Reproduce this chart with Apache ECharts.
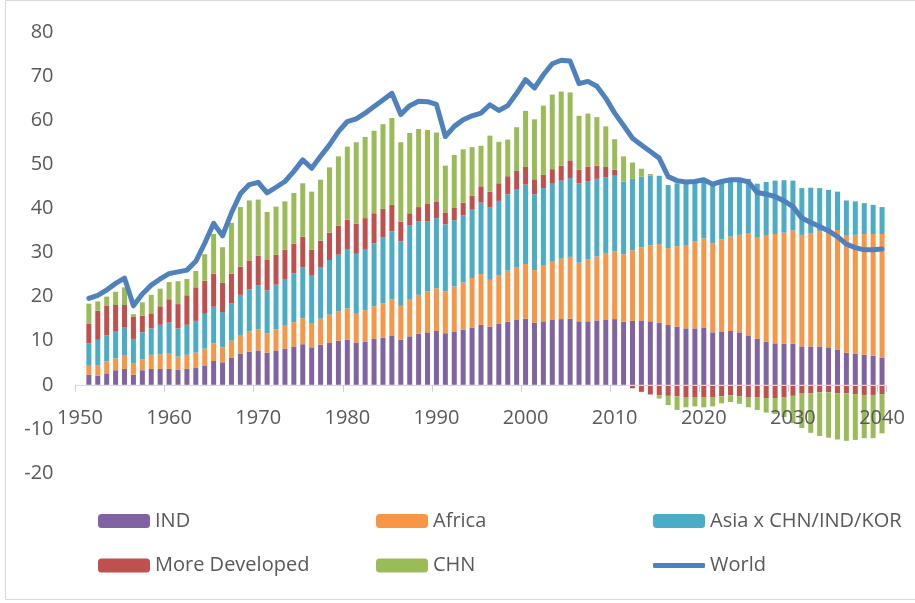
<!DOCTYPE html>
<html>
<head>
<meta charset="utf-8">
<script src="https://cdn.jsdelivr.net/npm/echarts@6/dist/echarts.min.js"></script>
<style>
  html, body { margin: 0; padding: 0; background: #fff; }
  #main { width: 915px; height: 603px; }
</style>
</head>
<body>
<div id="main"></div>
<script>
// categories 1950..2040, 1950 has no data
var years = [];
for (var y = 1950; y <= 2040; y++) years.push(String(y));

var yTicks = [-20, -10, 0, 10, 20, 30, 40, 50, 60, 70, 80];

var ind = [null,
  2.3, 2.1, 2.6, 3.3, 3.6, 2.3, 3.3, 3.6, 3.6, 3.6,
  3.4, 3.6, 3.8, 4.4, 5.4, 5.1, 6.2, 7.0, 7.5, 7.8,
  7.3, 7.8, 8.2, 8.7, 9.2, 8.5, 9.1, 9.6, 10.0, 10.2,
  9.6, 9.8, 10.4, 10.7, 11.2, 10.2, 11.0, 11.6, 11.9, 12.2,
  11.7, 12.1, 12.5, 13.0, 13.6, 13.2, 13.8, 14.3, 14.7, 15.0,
  14.1, 14.4, 14.7, 14.9, 15.0, 14.4, 14.4, 14.6, 14.7, 14.9,
  14.3, 14.5, 14.6, 14.4, 14.1, 13.6, 13.2, 12.8, 12.8, 13.0,
  11.9, 12.1, 12.2, 11.9, 11.2, 10.4, 9.8, 9.4, 9.3, 9.3,
  8.7, 8.7, 8.7, 8.5, 7.9, 7.3, 7.0, 6.8, 6.6, 6.2];

var africa = [null,
  2.0, 2.4, 2.7, 2.7, 3.0, 2.5, 2.5, 3.2, 3.3, 3.6,
  3.0, 3.2, 3.5, 3.8, 4.0, 3.4, 3.8, 4.3, 4.6, 4.8,
  4.4, 4.8, 5.2, 5.5, 5.9, 5.5, 5.9, 6.3, 6.6, 7.1,
  6.5, 7.1, 7.4, 7.8, 8.2, 7.7, 8.3, 8.8, 9.3, 9.7,
  9.5, 10.2, 10.7, 11.2, 11.5, 10.6, 11.1, 11.6, 12.0, 12.4,
  11.9, 12.6, 13.2, 13.7, 14.0, 13.3, 14.1, 14.5, 15.2, 15.4,
  15.3, 16.0, 16.6, 17.2, 17.8, 17.4, 18.2, 18.9, 19.7, 20.2,
  20.2, 20.9, 21.4, 22.1, 23.2, 23.1, 24.0, 24.8, 25.2, 25.7,
  25.3, 25.7, 26.2, 26.3, 27.2, 26.5, 27.0, 27.4, 27.6, 28.0];

var asia = [null,
  5.1, 5.7, 5.9, 6.2, 6.5, 5.6, 6.1, 6.0, 6.7, 6.9,
  6.4, 6.8, 7.2, 7.9, 8.3, 8.0, 8.5, 9.1, 9.5, 10.0,
  9.7, 10.1, 10.6, 11.1, 11.5, 10.9, 11.7, 12.4, 12.9, 13.5,
  13.6, 13.9, 14.3, 14.9, 15.4, 14.6, 16.8, 16.6, 15.9, 15.9,
  15.2, 15.0, 15.2, 15.5, 16.2, 16.5, 16.8, 17.3, 17.7, 18.0,
  17.2, 17.6, 17.7, 17.7, 17.9, 18.0, 17.7, 17.6, 17.2, 17.1,
  16.5, 16.2, 16.0, 15.8, 15.5, 14.3, 14.3, 14.3, 13.6, 13.3,
  13.6, 13.3, 12.9, 12.6, 12.3, 12.1, 12.2, 12.1, 11.9, 11.3,
  10.6, 10.3, 9.7, 9.4, 8.7, 8.0, 7.6, 7.0, 6.6, 6.1];

var moreDev = [null,
  4.4, 6.6, 6.8, 5.9, 5.0, 5.1, 3.8, 3.4, 4.2, 5.3,
  5.5, 6.7, 7.6, 7.5, 7.5, 6.7, 6.7, 6.4, 6.6, 6.7,
  6.9, 6.8, 6.6, 6.7, 7.0, 5.7, 6.0, 6.2, 6.6, 6.6,
  6.8, 7.0, 6.8, 6.5, 6.0, 4.5, 2.8, 3.3, 3.9, 3.8,
  2.7, 2.8, 2.9, 3.2, 3.7, 3.5, 4.0, 4.1, 4.1, 4.0,
  3.4, 3.0, 3.3, 3.4, 4.0, 3.1, 3.3, 3.0, 2.3, 1.4,
  0, -0.8, -1.6, -2.2, -2.4, -2.5, -2.6, -2.9, -2.9, -2.9,
  -2.9, -2.6, -2.4, -2.6, -2.9, -2.9, -3.0, -3.0, -2.9, -2.5,
  -2.0, -1.9, -1.7, -1.7, -1.9, -1.9, -2.1, -2.3, -2.3, -2.1];

var chn = [null,
  4.6, 2.1, 2.0, 3.0, 4.0, 0.5, 3.0, 4.2, 4.0, 3.9,
  5.2, 3.7, 3.7, 6.0, 9.0, 8.0, 11.5, 13.5, 13.6, 12.7,
  10.9, 10.9, 11.0, 11.5, 12.1, 13.2, 13.8, 14.8, 15.7, 16.6,
  18.5, 18.4, 18.7, 19.2, 19.7, 18.0, 18.2, 17.7, 16.8, 15.6,
  10.6, 12.0, 12.1, 11.0, 9.2, 12.7, 9.4, 8.3, 9.9, 12.7,
  13.6, 15.7, 16.9, 16.8, 15.4, 12.2, 12.0, 11.0, 9.2, 6.9,
  5.7, 3.7, 1.8, 0.4, -0.7, -2.1, -3.1, -2.2, -2.0, -2.2,
  -2.0, -1.6, -1.5, -1.7, -2.2, -2.8, -3.3, -3.6, -4.4, -6.2,
  -7.8, -9.0, -9.9, -10.3, -10.5, -10.8, -10.4, -9.8, -9.8, -8.9];

var world = [null,
  19.6, 20.3, 21.5, 23.0, 24.2, 17.9, 20.6, 22.6, 24.0, 25.2,
  25.6, 26.0, 28.0, 32.1, 36.6, 33.8, 39.0, 43.3, 45.4, 45.9,
  43.5, 44.8, 46.1, 48.4, 51.0, 49.1, 51.8, 54.4, 57.4, 59.7,
  60.3, 61.6, 63.1, 64.6, 66.1, 61.3, 63.3, 64.3, 64.2, 63.6,
  56.3, 58.6, 60.1, 61.0, 61.6, 63.5, 62.2, 63.3, 66.1, 69.2,
  67.3, 70.3, 72.8, 73.6, 73.4, 68.3, 68.8, 67.7, 65.0, 61.6,
  58.8, 55.9, 54.4, 52.9, 51.4, 47.2, 46.3, 46.0, 46.1, 46.5,
  45.5, 46.1, 46.5, 46.5, 46.0, 43.6, 43.2, 42.7, 41.7, 40.4,
  37.8, 36.8, 35.9, 34.9, 33.6, 31.9, 31.1, 30.6, 30.6, 30.8];

var chart = echarts.init(document.getElementById('main'), null, { renderer: 'canvas' });

var font = '"Open Sans", "Noto Sans", sans-serif';
var grey = '#595959';

// plot area: 80 at y=32, -20 at y=473
var gridTop = 32, gridBottom = 130;
var plotH = 603 - gridTop - gridBottom;
// x axis sits on the zero line, so shift it up from the grid bottom
var zeroShift = plotH * (0 - yTicks[0]) / (yTicks[yTicks.length - 1] - yTicks[0]);

function legendAt(name, left, top, h, icon) {
  return {
    data: [icon ? { name: name, icon: icon } : name],
    left: left,
    top: top,
    padding: 0,
    itemWidth: 52,
    itemHeight: h,
    itemGap: 5,
    selectedMode: false,
    textStyle: { fontFamily: font, fontSize: 20, color: grey, lineHeight: 20 }
  };
}

function barSeries(name, color, data) {
  return {
    name: name,
    type: 'bar',
    stack: 'total',
    barWidth: 5,
    itemStyle: { color: color },
    emphasis: { disabled: true },
    data: data
  };
}

var option = {
  animation: false,
  backgroundColor: '#ffffff',
  textStyle: { fontFamily: font },
  graphic: [{
    type: 'rect',
    shape: { x: 5.5, y: 0.5, width: 930, height: 599 },
    style: { fill: 'none', stroke: '#d9d9d9', lineWidth: 1 },
    silent: true
  }],
  grid: { left: 75.5, right: 28.5, top: gridTop, bottom: gridBottom },
  legend: [
    legendAt('IND', 98, 511, 14),
    legendAt('Africa', 376, 511, 14),
    legendAt('Asia x CHN/IND/KOR', 653, 511, 14),
    legendAt('More Developed', 98, 555.5, 14),
    legendAt('CHN', 376, 555.5, 14),
    legendAt('World', 653, 555.5, 5, 'roundRect')
  ],
  xAxis: {
    type: 'category',
    data: years,
    boundaryGap: true,
    offset: -zeroShift,
    z: 3,
    axisLine: { onZero: false, lineStyle: { color: '#d9d9d9', width: 1 } },
    axisTick: { show: true, interval: 9, length: 7, alignWithLabel: false, lineStyle: { color: '#d0d0d0' } },
    axisLabel: { interval: 9, fontSize: 20, color: grey, fontFamily: font, margin: 23 },
    splitLine: { show: false }
  },
  yAxis: {
    type: 'value',
    min: yTicks[0],
    max: yTicks[yTicks.length - 1],
    interval: 10,
    axisLine: { show: false },
    axisTick: { show: false },
    splitLine: { show: false },
    axisLabel: { fontSize: 20, color: grey, fontFamily: font, margin: 22 }
  },
  series: [
    barSeries('IND', '#8064A2', ind),
    barSeries('Africa', '#F79646', africa),
    barSeries('Asia x CHN/IND/KOR', '#4BACC6', asia),
    barSeries('More Developed', '#C0504D', moreDev),
    barSeries('CHN', '#9BBB59', chn),
    {
      name: 'World',
      type: 'line',
      data: world,
      showSymbol: false,
      symbol: 'none',
      z: 5,
      itemStyle: { color: '#4F81BD' },
      lineStyle: { color: '#4F81BD', width: 5, cap: 'round', join: 'round' },
      emphasis: { disabled: true }
    }
  ]
};

chart.setOption(option);
</script>
</body>
</html>
